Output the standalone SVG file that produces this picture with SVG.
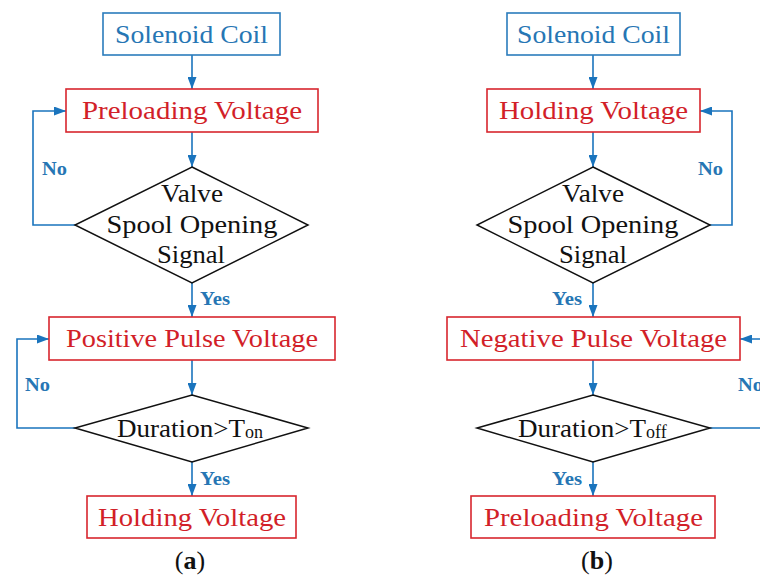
<svg xmlns="http://www.w3.org/2000/svg" width="760" height="576" viewBox="0 0 760 576">
<defs>
<marker id="ah" viewBox="0 0 12 9" refX="12" refY="4.5" markerWidth="12" markerHeight="9" markerUnits="userSpaceOnUse" orient="auto">
<path d="M0,0 L12,4.5 L0,9 Z" fill="#1a74bd"/>
</marker>
<style>
.bx{fill:#fff;stroke:#d8262e;stroke-width:1.6}
.bb{fill:#fff;stroke:#2b7cbc;stroke-width:1.6}
.dm{fill:#fff;stroke:#111;stroke-width:1.5}
.t{font-family:"Liberation Serif",serif;font-size:25px;text-anchor:middle}
.r{fill:#d21f29}
.b{fill:#2676b4}
.k{fill:#111}
.lb{font-family:"Liberation Serif",serif;font-size:19px;font-weight:bold;fill:#2676b4}
.c{fill:none;stroke:#1a74bd;stroke-width:1.6}
.cap{font-family:"Liberation Serif",serif;font-size:26px;fill:#111;text-anchor:middle}
</style>
</defs>
<rect width="760" height="576" fill="#fff"/>
<g id="connectors">
<path class="c" d="M192,55 V89" marker-end="url(#ah)"/>
<path class="c" d="M192,132 V167" marker-end="url(#ah)"/>
<path class="c" d="M75,225 H33 V111 H66" marker-end="url(#ah)"/>
<path class="c" d="M192,283 V317" marker-end="url(#ah)"/>
<path class="c" d="M192,360 V395" marker-end="url(#ah)"/>
<path class="c" d="M75,428 H17 V339 H49" marker-end="url(#ah)"/>
<path class="c" d="M192,462 V496" marker-end="url(#ah)"/>
<path class="c" d="M593,55 V89" marker-end="url(#ah)"/>
<path class="c" d="M593,132 V167" marker-end="url(#ah)"/>
<path class="c" d="M710,225 H732 V111 H700" marker-end="url(#ah)"/>
<path class="c" d="M593,283 V317" marker-end="url(#ah)"/>
<path class="c" d="M593,360 V395" marker-end="url(#ah)"/>
<path class="c" d="M710,428 H765 V339 H740" marker-end="url(#ah)"/>
<path class="c" d="M593,462 V496" marker-end="url(#ah)"/>
<text class="lb" x="42" y="175" textLength="25" lengthAdjust="spacingAndGlyphs">No</text>
<text class="lb" x="200" y="305" textLength="30" lengthAdjust="spacingAndGlyphs">Yes</text>
<text class="lb" x="25" y="391" textLength="25" lengthAdjust="spacingAndGlyphs">No</text>
<text class="lb" x="200" y="485" textLength="30" lengthAdjust="spacingAndGlyphs">Yes</text>
<text class="lb" x="698" y="175" textLength="25" lengthAdjust="spacingAndGlyphs">No</text>
<text class="lb" x="552" y="305" textLength="30" lengthAdjust="spacingAndGlyphs">Yes</text>
<text class="lb" x="738" y="391" textLength="25" lengthAdjust="spacingAndGlyphs">No</text>
<text class="lb" x="552" y="485" textLength="30" lengthAdjust="spacingAndGlyphs">Yes</text>
</g>
<g id="a-solenoid"><rect class="bb" x="103" y="13" width="177" height="42"/><text class="t b" x="191.5" y="43" textLength="153" lengthAdjust="spacingAndGlyphs">Solenoid Coil</text></g>
<g id="a-preload"><rect class="bx" x="66" y="89" width="252" height="43"/><text class="t r" x="192" y="119" textLength="220" lengthAdjust="spacingAndGlyphs">Preloading Voltage</text></g>
<g id="a-valve"><polygon class="dm" points="192,167 308,225 192,283 75,225"/>
<text class="t k" x="192" y="202" textLength="62" lengthAdjust="spacingAndGlyphs">Valve</text>
<text class="t k" x="192" y="233" textLength="171" lengthAdjust="spacingAndGlyphs">Spool Opening</text>
<text class="t k" x="191" y="263" textLength="68" lengthAdjust="spacingAndGlyphs">Signal</text></g>
<g id="a-positive"><rect class="bx" x="49" y="317" width="286" height="43"/><text class="t r" x="192" y="347" textLength="252" lengthAdjust="spacingAndGlyphs">Positive Pulse Voltage</text></g>
<g id="a-duration"><polygon class="dm" points="192,395 308,428 192,462 75,428"/>
<text class="t k" x="117" y="437" style="text-anchor:start"><tspan textLength="128" lengthAdjust="spacingAndGlyphs">Duration&gt;T</tspan><tspan font-size="18" dy="1">on</tspan></text></g>
<g id="a-holding"><rect class="bx" x="87" y="496" width="209" height="42"/><text class="t r" x="192" y="526" textLength="188" lengthAdjust="spacingAndGlyphs">Holding Voltage</text></g>
<text class="cap" x="190" y="569">(<tspan font-weight="bold">a</tspan>)</text>

<g id="b-solenoid"><rect class="bb" x="507" y="13" width="173" height="42"/><text class="t b" x="593.5" y="43" textLength="153" lengthAdjust="spacingAndGlyphs">Solenoid Coil</text></g>
<g id="b-holding"><rect class="bx" x="487" y="89" width="213" height="43"/><text class="t r" x="593.5" y="119" textLength="189" lengthAdjust="spacingAndGlyphs">Holding Voltage</text></g>
<g id="b-valve"><polygon class="dm" points="593,167 710,225 593,283 477,225"/>
<text class="t k" x="593" y="202" textLength="62" lengthAdjust="spacingAndGlyphs">Valve</text>
<text class="t k" x="593" y="233" textLength="171" lengthAdjust="spacingAndGlyphs">Spool Opening</text>
<text class="t k" x="593" y="263" textLength="68" lengthAdjust="spacingAndGlyphs">Signal</text></g>
<g id="b-negative"><rect class="bx" x="447" y="317" width="293" height="43"/><text class="t r" x="593.5" y="347" textLength="267" lengthAdjust="spacingAndGlyphs">Negative Pulse Voltage</text></g>
<g id="b-duration"><polygon class="dm" points="593,395 710,428 593,462 477,428"/>
<text class="t k" x="518" y="437" style="text-anchor:start"><tspan textLength="128" lengthAdjust="spacingAndGlyphs">Duration&gt;T</tspan><tspan font-size="18" dy="1">off</tspan></text></g>
<g id="b-preload"><rect class="bx" x="471" y="496" width="244" height="42"/><text class="t r" x="593.5" y="526" textLength="219" lengthAdjust="spacingAndGlyphs">Preloading Voltage</text></g>
<text class="cap" x="597" y="569">(<tspan font-weight="bold">b</tspan>)</text>
</svg>
